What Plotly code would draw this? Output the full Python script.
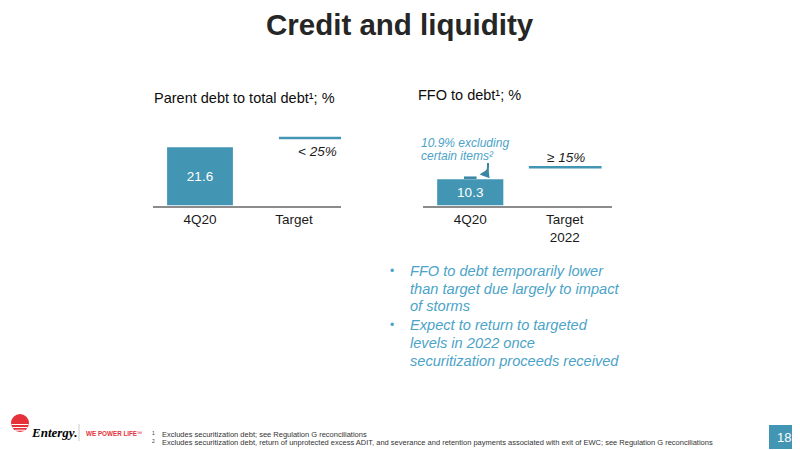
import plotly.graph_objects as go

# The page body adds an 8px margin, so the figure is 792x442 placed at (8, 8);
# all layout positions below are given in the 800x450 window's pixels.
OFF = 8
W, H = 800 - OFF, 450 - OFF


def px(x):
    return (x - OFF) / W


def py(y):
    return 1 - (y - OFF) / H


# ---------------- data ----------------
left_categories = ["4Q20", "Target"]
parent_debt_pct = [21.6, None]
parent_debt_target = [25]
parent_debt_target_label = ["< 25%"]

right_categories = ["4Q20", "Target<br>2022"]
ffo_to_debt_pct = [10.3, None]
ffo_excl_items_pct = [10.9]
ffo_target = [15]
ffo_target_label = ["\u2265 15%"]

bullets = [
    ["FFO to debt temporarily lower", "than target due largely to impact", "of storms"],
    ["Expect to return to targeted", "levels in 2022 once", "securitization proceeds received"],
]
footnotes = [
    ("1", "Excludes securitization debt; see Regulation G reconciliations"),
    ("2", "Excludes securitization debt, return of unprotected excess ADIT, and severance and retention payments associated with exit of EWC; see Regulation G reconciliations"),
]

# ---------------- styles ----------------
FONT = "Liberation Sans"
BAR = "#4396B3"
LIGHT = "#4BA3C7"
DARK = "#1a1a1a"
AXIS = "#8c8c8c"
RED = "#E5323A"

fig = go.Figure()


def labels(vals):
    return [("" if v is None else f"{v:.1f}") for v in vals]


fig.add_trace(go.Bar(
    x=left_categories, y=parent_debt_pct, text=labels(parent_debt_pct),
    width=0.7, marker=dict(color=BAR, line=dict(width=0)),
    textposition="inside", insidetextanchor="middle", constraintext="none",
    textfont=dict(color="white", size=13.5, family=FONT),
    xaxis="x", yaxis="y", showlegend=False, hoverinfo="skip"))

fig.add_trace(go.Bar(
    x=right_categories, y=ffo_to_debt_pct, text=labels(ffo_to_debt_pct),
    width=0.7, marker=dict(color=BAR, line=dict(width=0)),
    textposition="inside", insidetextanchor="middle", constraintext="none",
    textfont=dict(color="white", size=13.5, family=FONT),
    xaxis="x2", yaxis="y2", showlegend=False, hoverinfo="skip"))

fig.add_trace(go.Scatter(
    x=[right_categories[0]], y=ffo_excl_items_pct, mode="markers",
    marker=dict(symbol="line-ew", size=9, line=dict(color="#3A86A3", width=2.5)),
    xaxis="x2", yaxis="y2", showlegend=False, hoverinfo="skip", cliponaxis=False))

axis_common = dict(
    type="category", showline=True, linecolor=AXIS, linewidth=1.5,
    showgrid=False, zeroline=False, ticks="", fixedrange=True,
    tickfont=dict(family=FONT, size=13.5, color=DARK),
    ticklabelstandoff=1,
)

fig.update_layout(
    width=W, height=H, autosize=False, margin=dict(l=0, r=0, t=0, b=0),
    paper_bgcolor="white", plot_bgcolor="rgba(0,0,0,0)",
    font=dict(family=FONT, color=DARK),
    bargap=0.3,
    xaxis=dict(domain=[px(153), px(341)], range=[-0.5, 1.5],
               categoryorder="array", categoryarray=left_categories,
               anchor="y", **axis_common),
    yaxis=dict(domain=[py(205.5), py(70)], range=[0, 135.5 / 2.70],
               visible=False, fixedrange=True, anchor="x"),
    xaxis2=dict(domain=[px(423), px(612)], range=[-0.5, 1.5],
                categoryorder="array", categoryarray=right_categories,
                anchor="y2", **axis_common),
    yaxis2=dict(domain=[py(205.5), py(70)], range=[0, 135.5 / 2.55],
                visible=False, fixedrange=True, anchor="x2"),
)

shapes = []
annotations = []

# target lines
shapes.append(dict(type="line", xref="x", yref="y", x0=0.84, x1=1.62,
                   y0=parent_debt_target[0], y1=parent_debt_target[0],
                   line=dict(color=BAR, width=2.5)))
shapes.append(dict(type="line", xref="x2", yref="y2", x0=0.62, x1=1.39,
                   y0=ffo_target[0], y1=ffo_target[0],
                   line=dict(color=BAR, width=2.5)))
annotations.append(dict(xref="x", yref="y", x=1.25, y=parent_debt_target[0],
                        text=f"<i>{parent_debt_target_label[0]}</i>", showarrow=False,
                        yanchor="middle", yshift=-14,
                        font=dict(family=FONT, size=13.5, color=DARK)))
annotations.append(dict(xref="x2", yref="y2", x=1.01, y=ffo_target[0],
                        text=f"<i>{ffo_target_label[0]}</i>", showarrow=False,
                        yanchor="middle", yshift=10,
                        font=dict(family=FONT, size=13.5, color=DARK)))

# title
annotations.append(dict(xref="paper", yref="paper", x=px(400), y=py(25),
                        text="<b>Credit and liquidity</b>", showarrow=False,
                        xanchor="center", yanchor="middle",
                        font=dict(family=FONT, size=29.5, color="#262626")))

# subtitles
annotations.append(dict(xref="paper", yref="paper", x=px(152), y=py(98),
                        text="Parent debt to total debt\u00b9; %", showarrow=False,
                        xanchor="left", yanchor="middle",
                        font=dict(family=FONT, size=14.5, color="#0d0d0d")))
annotations.append(dict(xref="paper", yref="paper", x=px(416), y=py(95),
                        text="FFO to debt\u00b9; %", showarrow=False,
                        xanchor="left", yanchor="middle",
                        font=dict(family=FONT, size=14.5, color="#0d0d0d")))

# excluding-items callout
callout = [f"{ffo_excl_items_pct[0]}% excluding", "certain items\u00b2"]
for i, t in enumerate(callout):
    annotations.append(dict(xref="paper", yref="paper", x=px(419), y=py(143 + 13 * i),
                            text=f"<i>{t}</i>", showarrow=False,
                            xanchor="left", yanchor="middle",
                            font=dict(family=FONT, size=12, color=LIGHT)))
# curved arrow
shapes.append(dict(type="path", xref="paper", yref="paper",
                   path=f"M {px(488)} {py(163)} L {px(488)} {py(167)} Q {px(488)} {py(173.5)} {px(482)} {py(174)}",
                   line=dict(color="#3A86A3", width=2)))
annotations.append(dict(xref="paper", yref="paper", x=px(479.5), y=py(174.5),
                        ax=5, ay=-0.5, text="", showarrow=True, arrowhead=2,
                        arrowsize=1.2, arrowwidth=1.6, arrowcolor="#3A86A3", standoff=0))

# bullets
line_y = [270.7, 288.5, 306.3, 325, 343, 361]
k = 0
for b in bullets:
    for j, t in enumerate(b):
        if j == 0:
            annotations.append(dict(xref="paper", yref="paper", x=px(392), y=py(line_y[k]),
                                    text="\u2022", showarrow=False, xanchor="center",
                                    yanchor="middle",
                                    font=dict(family=FONT, size=12, color=LIGHT)))
        annotations.append(dict(xref="paper", yref="paper", x=px(408), y=py(line_y[k]),
                                text=f"<i>{t}</i>", showarrow=False, xanchor="left",
                                yanchor="middle",
                                font=dict(family=FONT, size=14.6, color=LIGHT)))
        k += 1

# footnotes
for i, (n, t) in enumerate(footnotes):
    yy = 434.3 + 8.5 * i
    annotations.append(dict(xref="paper", yref="paper", x=px(153), y=py(yy - 1.5),
                            text=n, showarrow=False, xanchor="center", yanchor="middle",
                            font=dict(family=FONT, size=5, color="#404040")))
    annotations.append(dict(xref="paper", yref="paper", x=px(160), y=py(yy),
                            text=t, showarrow=False, xanchor="left", yanchor="middle",
                            font=dict(family=FONT, size=7.5, color="#333333")))

# page number box
shapes.append(dict(type="rect", xref="paper", yref="paper",
                   x0=px(769), x1=px(798), y0=py(449), y1=py(425),
                   fillcolor=BAR, line=dict(width=0)))
annotations.append(dict(xref="paper", yref="paper", x=px(783.5), y=py(437),
                        text="18", showarrow=False, xanchor="center", yanchor="middle",
                        font=dict(family=FONT, size=13, color="white")))

# logo
shapes.append(dict(type="circle", xref="paper", yref="paper",
                   x0=px(11), x1=px(29), y0=py(432), y1=py(414),
                   fillcolor=RED, line=dict(width=0)))
for yy, (xa, xb) in [(424.5, (11.5, 28.5)), (427.5, (12.5, 27.5)), (430.2, (15, 25))]:
    shapes.append(dict(type="line", xref="paper", yref="paper",
                       x0=px(xa), x1=px(xb), y0=py(yy), y1=py(yy),
                       line=dict(color="white", width=1)))
annotations.append(dict(xref="paper", yref="paper", x=px(29), y=py(432),
                        text="<b><i>Entergy.</i></b>", showarrow=False,
                        xanchor="left", yanchor="middle",
                        font=dict(family="Liberation Serif", size=13, color="black")))
shapes.append(dict(type="line", xref="paper", yref="paper",
                   x0=px(79), x1=px(79), y0=py(424), y1=py(441),
                   line=dict(color="#cccccc", width=1)))
annotations.append(dict(xref="paper", yref="paper", x=px(84), y=py(433.3),
                        text="<b>WE POWER LIFE</b>\u2120", showarrow=False,
                        xanchor="left", yanchor="middle",
                        font=dict(family=FONT, size=6.3, color=RED)))

fig.update_layout(shapes=shapes, annotations=annotations)
fig.write_html("out.html")
